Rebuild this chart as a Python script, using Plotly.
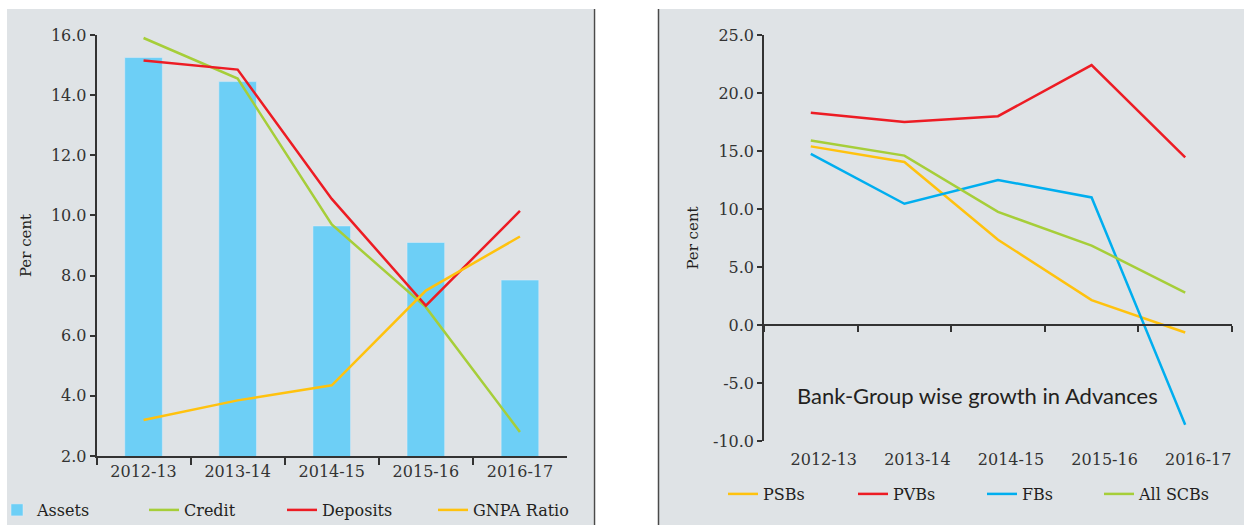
import plotly.graph_objects as go

W, H = 1244, 525

years = ["2012-13", "2013-14", "2014-15", "2015-16", "2016-17"]

# Left chart
assets = [15.25, 14.45, 9.65, 9.1, 7.85]
credit = [15.9, 14.55, 9.7, 6.95, 2.8]
deposits = [15.15, 14.85, 10.55, 7.0, 10.15]
gnpa = [3.2, 3.85, 4.35, 7.5, 9.3]

# Right chart
psbs = [15.4, 14.05, 7.35, 2.15, -0.65]
pvbs = [18.3, 17.5, 18.0, 22.4, 14.45]
fbs = [14.75, 10.45, 12.5, 11.0, -8.6]
all_scbs = [15.9, 14.6, 9.75, 6.85, 2.8]

left_ticks = [2.0, 4.0, 6.0, 8.0, 10.0, 12.0, 14.0, 16.0]
right_ticks = [-10.0, -5.0, 0.0, 5.0, 10.0, 15.0, 20.0, 25.0]

BG = "#dfe3e6"
TXT = "#231f20"
AX = "#333333"
SERIF = "DejaVu Serif"

C_BAR = "#6dcff6"
C_GREEN = "#a6ce39"
C_RED = "#ed1c24"
C_YEL = "#ffc20e"
C_BLUE = "#00aeef"

def px(x):
    return x / W

def py(y):
    return 1 - y / H

fig = go.Figure()

# Left traces
fig.add_trace(go.Bar(x=years, y=assets, name="Assets", marker_color=C_BAR, width=0.4,
                     xaxis="x", yaxis="y", legend="legend"))
fig.add_trace(go.Scatter(x=years, y=credit, name="Credit", mode="lines",
                         line=dict(color=C_GREEN, width=2.5), xaxis="x", yaxis="y", legend="legend2"))
fig.add_trace(go.Scatter(x=years, y=deposits, name="Deposits", mode="lines",
                         line=dict(color=C_RED, width=2.5), xaxis="x", yaxis="y", legend="legend3"))
fig.add_trace(go.Scatter(x=years, y=gnpa, name="GNPA Ratio", mode="lines",
                         line=dict(color=C_YEL, width=2.5), xaxis="x", yaxis="y", legend="legend4"))

# Right traces
fig.add_trace(go.Scatter(x=years, y=psbs, name="PSBs", mode="lines",
                         line=dict(color=C_YEL, width=2.5), xaxis="x2", yaxis="y2", legend="legend5"))
fig.add_trace(go.Scatter(x=years, y=pvbs, name="PVBs", mode="lines",
                         line=dict(color=C_RED, width=2.5), xaxis="x2", yaxis="y2", legend="legend6"))
fig.add_trace(go.Scatter(x=years, y=fbs, name="FBs", mode="lines",
                         line=dict(color=C_BLUE, width=2.5), xaxis="x3", yaxis="y2", legend="legend7"))
fig.add_trace(go.Scatter(x=years, y=all_scbs, name="All SCBs", mode="lines",
                         line=dict(color=C_GREEN, width=2.5), xaxis="x3", yaxis="y2", legend="legend8"))

tickfont = dict(family=SERIF, size=16, color=AX)

L_X = [px(96.5), px(567)]
L_Y = [py(456), py(35)]
R_X = [px(764), px(1232)]
R_Y = [py(441), py(35)]
r_min, r_max = -10, 25
zero_pos = R_Y[0] + (0 - r_min) / (r_max - r_min) * (R_Y[1] - R_Y[0])

common_x = dict(type="category", categoryorder="array", categoryarray=years,
                range=[-0.5, 4.5], showgrid=False, zeroline=False, fixedrange=True)

fig.update_layout(
    width=W, height=H,
    margin=dict(l=0, r=0, t=0, b=0, autoexpand=False),
    paper_bgcolor="white",
    plot_bgcolor=BG,
    showlegend=True,
    xaxis=dict(**common_x, domain=L_X, anchor="y", showline=True, linecolor=AX, linewidth=1.5,
               ticks="outside", tickson="boundaries", ticklen=7, tickcolor=AX, tickwidth=1.5,
               tickfont=tickfont),
    yaxis=dict(domain=L_Y, anchor="x", range=[2, 16], tickvals=left_ticks,
               ticktext=[f"{v:.1f}" for v in left_ticks],
               showline=True, linecolor=AX, linewidth=1.5, ticks="outside", ticklen=5,
               tickcolor=AX, tickwidth=1.5, showgrid=False, zeroline=False, tickfont=tickfont,
               title=dict(text="Per cent", font=dict(family=SERIF, size=15, color=TXT), standoff=16)),
    xaxis2=dict(**common_x, domain=R_X, anchor="y2", showline=False, ticks="",
                tickfont=tickfont, ticklabelshift=13, ticklabelstandoff=7),
    xaxis3=dict(**common_x, overlaying="x2", anchor="free", position=zero_pos, showline=True,
                linecolor=AX, linewidth=1.5, ticks="outside", tickson="boundaries", ticklen=6,
                tickcolor=AX, tickwidth=1.5, showticklabels=False),
    yaxis2=dict(domain=R_Y, anchor="x2", range=[r_min, r_max], tickvals=right_ticks,
                ticktext=[f"{v:.1f}" for v in right_ticks],
                showline=True, linecolor=AX, linewidth=1.5, ticks="outside", ticklen=5,
                tickcolor=AX, tickwidth=1.5, showgrid=False, zeroline=False, tickfont=tickfont,
                title=dict(text="Per cent", font=dict(family=SERIF, size=15, color=TXT), standoff=11)),
)

leg_font = dict(family=SERIF, size=16, color=TXT)
legend_pos = {
    "legend": (-3, 510), "legend2": (144, 510), "legend3": (282, 510), "legend4": (433, 510),
    "legend5": (723, 494), "legend6": (853, 494), "legend7": (982, 494), "legend8": (1099, 494),
}
for key, (lx, ly) in legend_pos.items():
    fig.layout[key] = dict(x=px(lx), y=py(ly), xanchor="left", yanchor="middle",
                           orientation="h", bgcolor="rgba(0,0,0,0)", font=leg_font,
                           borderwidth=0)

# Panel backgrounds and separators
fig.update_layout(shapes=[
    dict(type="rect", xref="paper", yref="paper", x0=px(7), x1=px(593.5), y0=0, y1=py(9),
         fillcolor=BG, line_width=0, layer="below"),
    dict(type="rect", xref="paper", yref="paper", x0=px(659), x1=1, y0=0, y1=py(9),
         fillcolor=BG, line_width=0, layer="below"),
    dict(type="line", xref="paper", yref="paper", x0=px(594.5), x1=px(594.5), y0=0, y1=py(9),
         line=dict(color="#4a4a4a", width=1.5)),
    dict(type="line", xref="paper", yref="paper", x0=px(658.5), x1=px(658.5), y0=0, y1=py(9),
         line=dict(color="#4a4a4a", width=1.5)),
])

fig.add_annotation(text="Bank-Group wise growth in Advances", xref="paper", yref="paper",
                   x=px(977), y=py(395), xanchor="center", yanchor="middle", showarrow=False,
                   font=dict(family="Lato", size=22, color=TXT))

fig.write_html("out.html")
